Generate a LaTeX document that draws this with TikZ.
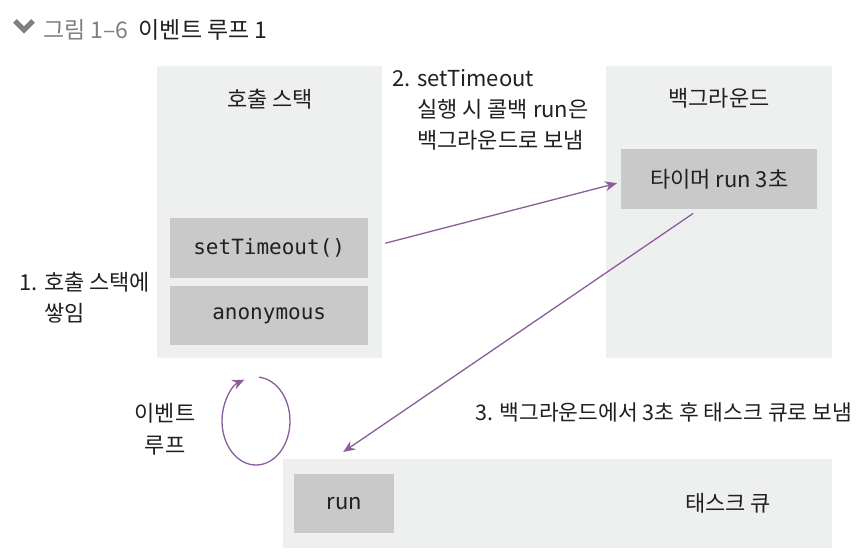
\documentclass[tikz,border=0pt]{standalone}
\usepackage{fontspec}
\setmainfont{Noto Sans CJK KR}
\newfontfamily\codefont{DejaVu Sans Mono}
\usetikzlibrary{arrows.meta}
\definecolor{panelbg}{HTML}{EEF0EF}
\definecolor{boxbg}{HTML}{C9C9C9}
\definecolor{arrowc}{HTML}{8B5E9B}
\definecolor{txt}{HTML}{231F20}
\definecolor{titlegray}{HTML}{7F7F7F}
\begin{document}
\begin{tikzpicture}[x=1pt,y=-1pt,
  every node/.style={text=txt, inner sep=0pt, font=\fontsize{22}{31}\selectfont},
  panel/.style={fill=panelbg, anchor=north west},
  itembox/.style={fill=boxbg, anchor=north west},
  codetext/.style={font=\codefont\fontsize{21}{24}\selectfont},
  arr/.style={draw=arrowc, line width=1.3pt, -{Stealth[length=12pt,width=10pt]}}]
\fill[white] (0,0) rectangle (865,559);
\useasboundingbox (0,0) rectangle (865,559);
% title
\draw[titlegray, line width=5pt] (15,21) -- (24,30) -- (33,21);
\node[anchor=west, font=\fontsize{23}{26}\selectfont] (title) at (43,30)
  {\textcolor{titlegray}{그림 1–6}\ \ 이벤트 루프 1};
% panels
\node[panel, minimum width=225, minimum height=292] (cs) at (157,66) {};
\node[panel, minimum width=226, minimum height=292] (bg) at (606,66) {};
\node[panel, minimum width=549, minimum height=89] (tq) at (283,459) {};
% inner boxes
\node[itembox, minimum width=198, minimum height=60] (st) at (170,218) {};
\node[codetext] (sttext) at (st.center) {setTimeout()};
\node[itembox, minimum width=198, minimum height=59] (an) at (170,286) {};
\node[codetext] (antext) at (an.center) {anonymous};
\node[itembox, minimum width=196, minimum height=60] (timer) at (621,149) {};
\node (timertext) at (timer.center) {타이머 run 3초};
\node[itembox, minimum width=100, minimum height=59] (run) at (294,474) {};
\node (runtext) at (run.center) {run};
% panel labels
\node (cslabel) at (270,99) {호출 스택};
\node (bglabel) at (719,98) {백그라운드};
\node (tqlabel) at (728,503) {태스크 큐};
% step labels
\node[anchor=west, align=left] (step1) at (19,298) {1. 호출 스택에\\\phantom{1. }쌓임};
\node[anchor=north west, align=left] (step2) at (392,69)
  {2. setTimeout\\\phantom{2. }실행 시 콜백 run은\\\phantom{2. }백그라운드로 보냄};
\node[anchor=west, font=\fontsize{21.5}{26}\selectfont] (step3) at (475,412) {3. 백그라운드에서 3초 후 태스크 큐로 보냄};
\node[align=center, font=\fontsize{22}{32}\selectfont] (looplabel) at (165,429) {이벤트\\루프};
% arrows
\draw[arr] ([shift={(17,-5)}]st.east) -- ([shift={(-4,4)}]timer.west);
\draw[arr] ([shift={(-26,4)}]timer.south) -- ([shift={(-1,-22)}]run.north);
\coordinate (loopc) at (256,421);
\draw[arr] (loopc) ++(-85:34 and 44) arc[start angle=-85, end angle=250, x radius=34, y radius=44];
\end{tikzpicture}
\end{document}
